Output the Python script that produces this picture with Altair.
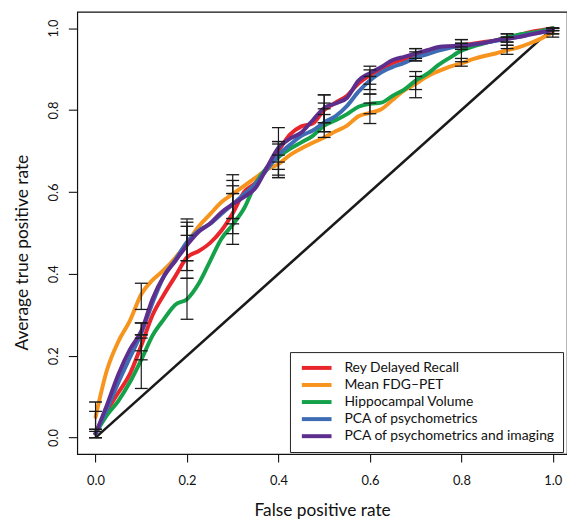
import altair as alt
import pandas as pd

# ---------------- data ----------------
fpr = [0, 0.025, 0.05, 0.075, 0.1, 0.125, 0.15, 0.175, 0.2, 0.225, 0.25, 0.275,
       0.3, 0.325, 0.35, 0.375, 0.4, 0.425, 0.45, 0.475, 0.5, 0.525, 0.55, 0.575,
       0.6, 0.625, 0.65, 0.675, 0.7, 0.725, 0.75, 0.775, 0.8, 0.825, 0.85, 0.875,
       0.9, 0.925, 0.95, 0.975, 1.0]

rey = [0.01, 0.065, 0.11, 0.155, 0.225, 0.3, 0.35, 0.395, 0.44, 0.455, 0.475, 0.505,
       0.548, 0.6, 0.622, 0.655, 0.7, 0.74, 0.76, 0.767, 0.8, 0.818, 0.835, 0.865,
       0.885, 0.9, 0.915, 0.924, 0.932, 0.94, 0.95, 0.955, 0.958, 0.962, 0.966, 0.97,
       0.976, 0.983, 0.99, 0.995, 1.0]

fdg = [0.05, 0.165, 0.235, 0.285, 0.35, 0.385, 0.41, 0.44, 0.475, 0.515, 0.545, 0.575,
       0.595, 0.615, 0.635, 0.655, 0.668, 0.69, 0.706, 0.72, 0.733, 0.748, 0.762, 0.785,
       0.793, 0.802, 0.825, 0.848, 0.864, 0.882, 0.895, 0.906, 0.914, 0.924, 0.932, 0.938,
       0.946, 0.953, 0.963, 0.975, 0.99]

hip = [0.01, 0.055, 0.09, 0.135, 0.19, 0.25, 0.29, 0.325, 0.338, 0.375, 0.43, 0.485,
       0.52, 0.56, 0.62, 0.66, 0.685, 0.705, 0.721, 0.737, 0.762, 0.775, 0.79, 0.808,
       0.815, 0.818, 0.835, 0.85, 0.872, 0.888, 0.91, 0.928, 0.945, 0.955, 0.963, 0.97,
       0.977, 0.984, 0.988, 0.993, 1.0]

pca = [0.01, 0.07, 0.135, 0.195, 0.255, 0.33, 0.395, 0.435, 0.478, 0.505, 0.522, 0.546,
       0.57, 0.595, 0.62, 0.655, 0.69, 0.715, 0.737, 0.75, 0.77, 0.785, 0.81, 0.845,
       0.872, 0.892, 0.905, 0.915, 0.928, 0.936, 0.945, 0.952, 0.956, 0.96, 0.964, 0.969,
       0.974, 0.979, 0.985, 0.99, 0.995]

pcai = [0.01, 0.08, 0.155, 0.215, 0.26, 0.34, 0.395, 0.432, 0.47, 0.502, 0.522, 0.55,
        0.57, 0.588, 0.61, 0.66, 0.708, 0.73, 0.745, 0.775, 0.805, 0.816, 0.83, 0.872,
        0.89, 0.905, 0.922, 0.93, 0.938, 0.946, 0.954, 0.956, 0.957, 0.96, 0.964, 0.97,
        0.974, 0.978, 0.984, 0.99, 0.995]

series_names = ["Rey Delayed Recall", "Mean FDG\u2013PET", "Hippocampal Volume",
                "PCA of psychometrics", "PCA of psychometrics and imaging"]
series_colors = ["#E8262B", "#F7941E", "#15A04A", "#3D6CB4", "#5C2E8E"]

# error bars (low / high) at each tenth of the false positive rate
err_x = [0, 0.1, 0.2, 0.3, 0.4, 0.5, 0.6, 0.7, 0.8, 0.9, 1.0]
rey_lo = [0.0, 0.19, 0.389, 0.498, 0.655, 0.769, 0.839, 0.920, 0.954, 0.966, 0.994]
rey_hi = [0.02, 0.251, 0.494, 0.596, 0.757, 0.837, 0.907, 0.950, 0.972, 0.986, 1.0]
fdg_lo = [0.02, 0.313, 0.432, 0.535, 0.635, 0.733, 0.767, 0.830, 0.907, 0.936, 0.978]
fdg_hi = [0.087, 0.377, 0.534, 0.642, 0.690, 0.789, 0.817, 0.882, 0.926, 0.958, 0.994]
hip_lo = [0.0, 0.12, 0.289, 0.472, 0.673, 0.747, 0.791, 0.850, 0.918, 0.966, 0.994]
hip_hi = [0.015, 0.251, 0.389, 0.596, 0.723, 0.803, 0.839, 0.894, 0.963, 0.986, 1.0]
pca_lo = [0.0, 0.212, 0.432, 0.535, 0.635, 0.747, 0.850, 0.920, 0.948, 0.958, 0.986]
pca_hi = [0.02, 0.28, 0.516, 0.615, 0.717, 0.817, 0.882, 0.942, 0.963, 0.978, 1.0]
pcai_lo = [0.0, 0.243, 0.408, 0.522, 0.641, 0.769, 0.863, 0.926, 0.948, 0.950, 0.986]
pcai_hi = [0.064, 0.28, 0.526, 0.628, 0.723, 0.837, 0.898, 0.950, 0.972, 0.978, 1.0]

diag_x = [0, 1]
diag_y = [0, 1]

x_ticks = [0, 0.2, 0.4, 0.6, 0.8, 1.0]
y_ticks = [0, 0.2, 0.4, 0.6, 0.8, 1.0]

FONT = "Lato"

# ---------------- tables ----------------
curves = [rey, fdg, hip, pca, pcai]
lows = [rey_lo, fdg_lo, hip_lo, pca_lo, pcai_lo]
highs = [rey_hi, fdg_hi, hip_hi, pca_hi, pcai_hi]

rows = []
for k, (name, ys) in enumerate(zip(series_names, curves)):
    for i, (x, y) in enumerate(zip(fpr, ys)):
        rows.append({"series": name, "k": k, "i": i, "fpr": x, "tpr": y})
df_lines = pd.DataFrame(rows)

erows = []
for name, lo, hi in zip(series_names, lows, highs):
    for x, a, b in zip(err_x, lo, hi):
        erows.append({"series": name, "fpr": x, "lo": a, "hi": b})
df_err = pd.DataFrame(erows)

df_diag = pd.DataFrame({"fpr": diag_x, "tpr": diag_y})

xscale = alt.Scale(domain=[-0.04, 1.031], nice=False, zero=False)
yscale = alt.Scale(domain=[-0.04, 1.04], nice=False, zero=False)

xaxis = alt.Axis(values=x_ticks, format=".1f", title="False positive rate",
                 tickSize=8, labelPadding=13, titlePadding=14)
yaxis = alt.Axis(values=y_ticks, format=".1f", title="Average true positive rate",
                 tickSize=9, labelAngle=270, labelPadding=8, titlePadding=16,
                 titleY=243)

diag = alt.Chart(df_diag).mark_line(color="#1a1a1a", strokeWidth=2.6).encode(
    x=alt.X("fpr:Q", scale=xscale, axis=xaxis),
    y=alt.Y("tpr:Q", scale=yscale, axis=yaxis),
)

lines = alt.Chart(df_lines).mark_line(strokeWidth=4, interpolate="monotone",
                                      strokeCap="round", strokeJoin="round").encode(
    x=alt.X("fpr:Q", scale=xscale),
    y=alt.Y("tpr:Q", scale=yscale),
    color=alt.Color(
        "series:N",
        scale=alt.Scale(domain=series_names, range=series_colors),
        sort=series_names,
        legend=alt.Legend(
            title=None, orient="none", legendX=215, legendY=344,
            symbolType="M-2.5,0L2.5,0", symbolSize=144, symbolStrokeWidth=4,
            symbolOffset=11, labelOffset=20, rowPadding=1.25, padding=8,
            labelFont=FONT, labelFontSize=14, labelColor="#111",
            strokeColor="#222", fillColor="white", labelLimit=400,
        ),
    ),
    order=alt.Order("k:Q"),
    detail="series:N",
)

bars = alt.Chart(df_err).mark_rule(color="#1a1a1a", strokeWidth=1.2).encode(
    x=alt.X("fpr:Q", scale=xscale),
    y=alt.Y("lo:Q", scale=yscale),
    y2="hi:Q",
)
cap_lo = alt.Chart(df_err).mark_tick(orient="horizontal", size=13, thickness=1.3,
                                     color="#1a1a1a", opacity=1).encode(
    x=alt.X("fpr:Q", scale=xscale),
    y=alt.Y("lo:Q", scale=yscale),
)
cap_hi = alt.Chart(df_err).mark_tick(orient="horizontal", size=13, thickness=1.3,
                                     color="#1a1a1a", opacity=1).encode(
    x=alt.X("fpr:Q", scale=xscale),
    y=alt.Y("hi:Q", scale=yscale),
)

chart = alt.layer(diag, lines, bars, cap_lo, cap_hi).properties(
    width=495, height=447,
    padding={"left": 70, "top": 1, "right": 0, "bottom": 70},
    autosize=alt.AutoSizeParams(type="none"),
    background="white",
).configure_view(
    stroke="#111", strokeWidth=1.2,
).configure_axis(
    grid=False, domain=False, tickColor="#111", tickWidth=1.1,
    labelFont=FONT, labelFontSize=13, labelColor="#111",
    titleFont=FONT, titleFontSize=17.5, titleFontWeight="normal", titleColor="#111",
)

chart.save("out.html", embed_options={"renderer": "svg", "actions": False})
